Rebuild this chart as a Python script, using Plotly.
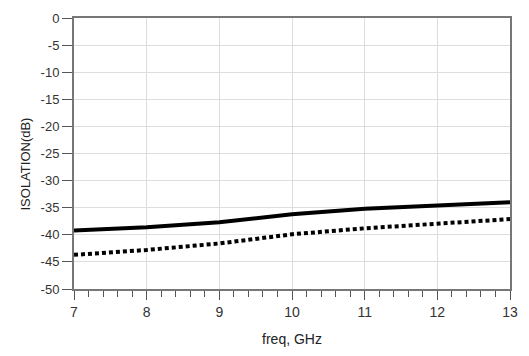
import plotly.graph_objects as go

freq = [7, 8, 9, 10, 11, 12, 13]
iso_solid = [-39.2, -38.6, -37.7, -36.2, -35.2, -34.6, -34.0]
iso_dotted = [-43.7, -42.8, -41.6, -39.9, -38.8, -37.9, -37.1]
x_ticks = [7, 8, 9, 10, 11, 12, 13]
y_ticks = [0, -5, -10, -15, -20, -25, -30, -35, -40, -45, -50]

fig = go.Figure()
fig.add_trace(go.Scatter(x=freq, y=iso_dotted, mode="lines",
                         line=dict(color="black", width=4, dash="4px,3px"),
                         showlegend=False))
fig.add_trace(go.Scatter(x=freq, y=iso_solid, mode="lines",
                         line=dict(color="black", width=4),
                         showlegend=False))

font = dict(family="Liberation Sans, Arial, sans-serif", color="#333333", size=13)

fig.update_layout(
    width=529, height=356,
    margin=dict(l=74, r=16, t=11, b=67),
    paper_bgcolor="white", plot_bgcolor="white",
    font=font,
    xaxis=dict(
        range=[7, 13], tickvals=x_ticks, ticktext=[str(v) for v in x_ticks],
        showgrid=True, gridcolor="#dddddd", gridwidth=1,
        showline=True, linecolor="#777777", linewidth=1.5, mirror=True,
        ticks="outside", ticklen=9, tickcolor="#555555", tickwidth=1,
        minor=dict(dtick=0.2, ticks="outside", ticklen=6, tickcolor="#555555", showgrid=False),
        zeroline=False,
        title=dict(text="freq, GHz", font=dict(size=14, color="#222222"), standoff=16),
        tickfont=dict(size=14),
    ),
    yaxis=dict(
        range=[-50, 0], tickvals=y_ticks, ticktext=[str(v) for v in y_ticks],
        showgrid=True, gridcolor="#dddddd", gridwidth=1,
        showline=True, linecolor="#777777", linewidth=2, mirror=True,
        ticks="outside", ticklen=10, tickcolor="#555555", tickwidth=1,
        zeroline=False,
        tickfont=dict(size=13),
    ),
    annotations=[dict(
        text="ISOLATION(dB)", textangle=-90, showarrow=False,
        xref="paper", yref="paper", x=-0.112, y=0.46,
        xanchor="center", yanchor="middle",
        font=dict(size=13, color="#222222"),
    )],
)

fig.write_html("out.html")
